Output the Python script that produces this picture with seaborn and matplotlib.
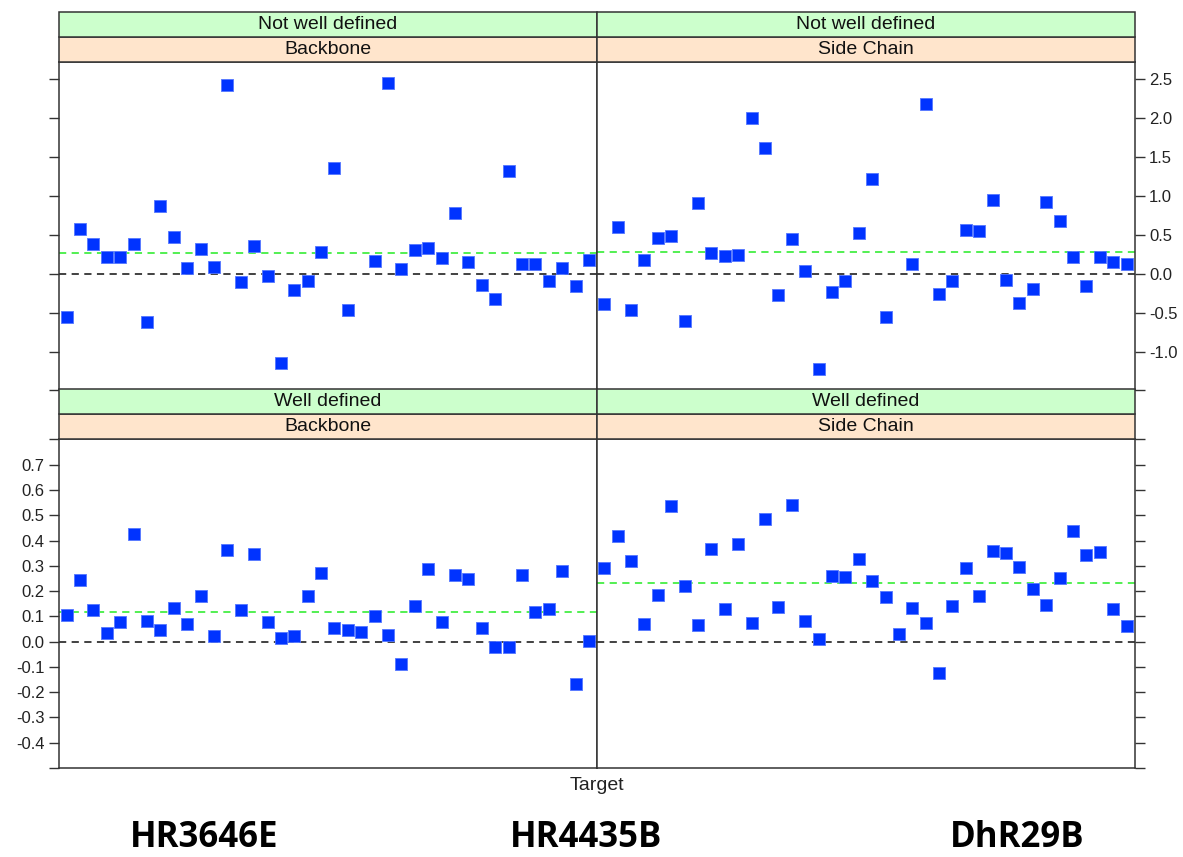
import numpy as np
import pandas as pd
import matplotlib
matplotlib.use("Agg")
import matplotlib.pyplot as plt
import seaborn as sns
from matplotlib.patches import Rectangle

# Valeurs (40 cibles, la cible 23 manque en "Not well defined")
targets = list(range(1, 41))

nwd_backbone = [-0.55, 0.57, 0.38, 0.22, 0.22, 0.38, -0.62, 0.87, 0.47, 0.07,
                0.32, 0.08, 2.42, -0.11, 0.36, -0.03, -1.15, -0.21, -0.10, 0.28,
                1.36, -0.47, np.nan, 0.16, 2.45, 0.06, 0.30, 0.33, 0.20, 0.78,
                0.15, -0.14, -0.33, 1.32, 0.13, 0.12, -0.10, 0.07, -0.16, 0.18]

nwd_sidechain = [-0.39, 0.60, -0.46, 0.18, 0.46, 0.49, -0.61, 0.91, 0.27, 0.23,
                 0.24, 2.00, 1.62, -0.27, 0.44, 0.03, -1.23, -0.23, -0.10, 0.52,
                 1.22, -0.55, np.nan, 0.12, 2.18, -0.26, -0.09, 0.56, 0.55, 0.95,
                 -0.08, -0.38, -0.20, 0.92, 0.68, 0.22, -0.16, 0.22, 0.15, 0.13]

wd_backbone = [0.106, 0.242, 0.125, 0.036, 0.079, 0.425, 0.083, 0.046, 0.132, 0.070,
               0.181, 0.022, 0.363, 0.125, 0.347, 0.077, 0.016, 0.024, 0.180, 0.271,
               0.054, 0.044, 0.038, 0.100, 0.028, -0.090, 0.141, 0.288, 0.078, 0.262,
               0.247, 0.055, -0.020, -0.020, 0.263, 0.116, 0.128, 0.280, -0.169, 0.004]

wd_sidechain = [0.290, 0.417, 0.320, 0.069, 0.185, 0.535, 0.219, 0.065, 0.365, 0.129,
                0.388, 0.075, 0.487, 0.135, 0.539, 0.082, 0.011, 0.260, 0.255, 0.325,
                0.240, 0.177, 0.032, 0.131, 0.073, -0.125, 0.140, 0.293, 0.182, 0.358,
                0.349, 0.297, 0.207, 0.145, 0.251, 0.436, 0.342, 0.355, 0.128, 0.063]

definitions = ["Not well defined", "Well defined"]
atoms = ["Backbone", "Side Chain"]
mean_lines = {("Not well defined", "Backbone"): 0.265,
              ("Not well defined", "Side Chain"): 0.278,
              ("Well defined", "Backbone"): 0.119,
              ("Well defined", "Side Chain"): 0.23}

top_ticks = [-1.5, -1.0, -0.5, 0.0, 0.5, 1.0, 1.5, 2.0, 2.5]
top_labels = ["", "-1.0", "-0.5", "0.0", "0.5", "1.0", "1.5", "2.0", "2.5"]
bottom_ticks = [-0.5, -0.4, -0.3, -0.2, -0.1, 0.0, 0.1, 0.2, 0.3, 0.4, 0.5, 0.6, 0.7, 0.8]
bottom_labels = [""] + ["-0.4", "-0.3", "-0.2", "-0.1", "0.0", "0.1", "0.2",
                        "0.3", "0.4", "0.5", "0.6", "0.7"] + [""]

target_names = ["HR3646E", "HR4435B", "DhR29B"]

# Construction du tableau long
series = {("Not well defined", "Backbone"): nwd_backbone,
          ("Not well defined", "Side Chain"): nwd_sidechain,
          ("Well defined", "Backbone"): wd_backbone,
          ("Well defined", "Side Chain"): wd_sidechain}
rows = []
for (d, a), vals in series.items():
    for t, v in zip(targets, vals):
        rows.append({"Target": t, "value": v, "definition": d, "atom": a})
df = pd.DataFrame(rows)

sns.set_style("white")
plt.rcParams["font.family"] = ["Liberation Sans", "DejaVu Sans"]

line_col = "#333333"
g = sns.FacetGrid(df, row="definition", col="atom", row_order=definitions,
                  col_order=atoms, sharey="row", sharex=True, despine=False,
                  height=4, aspect=1.5)
g.map_dataframe(sns.scatterplot, x="Target", y="value", marker="s", s=64,
                color="#0033FF", edgecolor="#5577FF", linewidth=0.6, zorder=3)
g.set_titles("")
g.set_axis_labels("", "")
g.figure.set_size_inches(11.83, 8.57)
g.figure.subplots_adjust(left=0.0501, right=0.9591, top=0.9277, bottom=0.1039,
                         wspace=0, hspace=0.149)

strip_h = 0.076
for i, d in enumerate(definitions):
    for j, a in enumerate(atoms):
        ax = g.axes[i, j]
        ax.set_xlim(0.45, 40.6)
        if i == 0:
            ax.set_ylim(-1.5, 2.72)
            ax.set_yticks(top_ticks)
            ax.set_yticklabels(top_labels)
        else:
            ax.set_ylim(-0.5, 0.8)
            ax.set_yticks(bottom_ticks)
            ax.set_yticklabels(bottom_labels)
        ax.set_xticks([])
        ax.axhline(0, color=line_col, ls=(0, (4, 3)), lw=1.3, zorder=2)
        ax.axhline(mean_lines[(d, a)], color="#44EE44", ls=(0, (4, 3)), lw=1.3, zorder=2)
        for s in ax.spines.values():
            s.set_color(line_col)
            s.set_linewidth(1.1)
        # ticks seulement sur les bords extérieurs (style lattice)
        if j == 0:
            ax.yaxis.set_ticks_position("left")
            ax.tick_params(axis="y", direction="out", length=7.5, width=1, color=line_col,
                           labelleft=(i == 1), labelright=False, labelsize=12,
                           labelcolor="#222222", pad=3)
        else:
            ax.yaxis.set_ticks_position("right")
            ax.tick_params(axis="y", direction="out", length=7.5, width=1, color=line_col,
                           labelright=(i == 0), labelleft=False, labelsize=12,
                           labelcolor="#222222", pad=3)
        # bandeaux
        ax.add_patch(Rectangle((0, 1), 1, strip_h, transform=ax.transAxes,
                               facecolor="#FFE5CC", edgecolor=line_col, lw=1.1,
                               clip_on=False, zorder=5))
        ax.add_patch(Rectangle((0, 1 + strip_h), 1, strip_h, transform=ax.transAxes,
                               facecolor="#CCFFCC", edgecolor=line_col, lw=1.1,
                               clip_on=False, zorder=5))
        ax.text(0.5, 1 + strip_h / 2, a, transform=ax.transAxes, ha="center",
                va="center", fontsize=14, color="#111111", zorder=6)
        ax.text(0.5, 1 + 1.5 * strip_h, d, transform=ax.transAxes, ha="center",
                va="center", fontsize=14, color="#111111", zorder=6)

g.figure.text(597 / 1183, 1 - 786 / 857, "Target", ha="center", va="center",
              fontsize=14, color="#222222")
for name, xc in zip(target_names, [204, 586, 1017]):
    g.figure.text(xc / 1183, 1 - 838 / 857, name, ha="center", va="center",
                  fontsize=25, fontweight="bold", family=["Open Sans", "DejaVu Sans"],
                  color="black")

g.figure.savefig("out.png", dpi=100)
